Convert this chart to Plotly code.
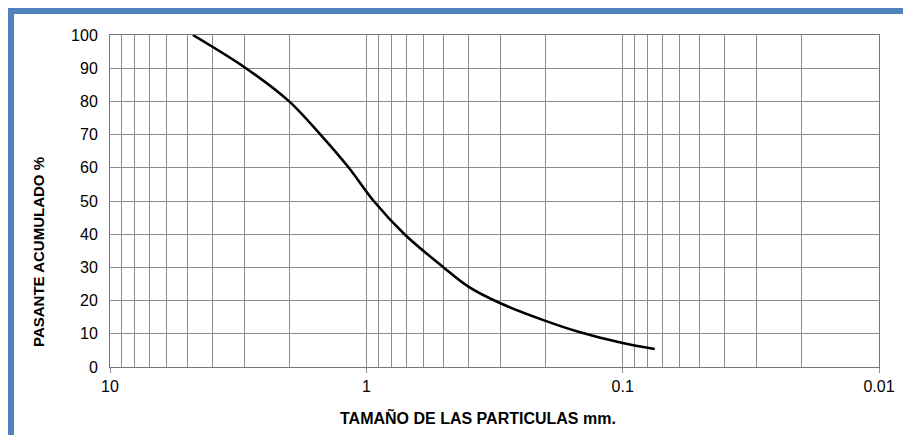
import plotly.graph_objects as go

# Data (particle size in mm, cumulative passing %)
size_mm = [4.75, 2.95, 2.0, 1.51, 1.17, 0.936, 0.71, 0.5, 0.4, 0.3, 0.2, 0.15, 0.1, 0.075]
passing = [100, 90, 80, 70, 60, 50, 40, 30, 24.2, 19.2, 13.9, 10.7, 7.2, 5.4]

major_ticks = [10, 1, 0.1, 0.01]
major_labels = ["10", "1", "0.1", "0.01"]
minor_ticks = [m * d for d in (1, 0.1, 0.01) for m in range(2, 10)]
y_ticks = list(range(0, 101, 10))

# page has an 8px body margin, so the figure origin sits at page (8, 8)
OFF = 8
W, H = 911 - OFF, 435 - OFF
L, R, T, B = 110 - OFF, 911 - 879, 35 - OFF, 435 - 367
pw, ph = W - L - R, H - T - B


def px(x):  # page x -> paper x
    return (x - OFF - L) / pw


def py(y):  # page y -> paper y
    return (H - B - (y - OFF)) / ph


fig = go.Figure()
fig.add_trace(go.Scatter(
    x=size_mm, y=passing, mode="lines",
    line=dict(color="black", width=2.6, shape="spline", smoothing=0.9),
    showlegend=False, hoverinfo="x+y",
))

grid = "#8c8c8c"
fig.update_layout(
    width=W, height=H,
    margin=dict(l=L, r=R, t=T, b=B),
    paper_bgcolor="white", plot_bgcolor="white",
    font=dict(family="Liberation Sans, Arial, sans-serif", color="black", size=16),
    xaxis=dict(
        type="log", range=[1, -2],
        tickmode="array", tickvals=major_ticks, ticktext=major_labels,
        ticks="outside", ticklen=5, tickcolor=grid,
        showgrid=True, gridcolor=grid, gridwidth=1,
        minor=dict(tickmode="array", tickvals=minor_ticks, showgrid=True,
                   gridcolor=grid, gridwidth=1, ticks=""),
        showline=True, linecolor="#777777", linewidth=1, mirror=True,
        zeroline=False, tickfont=dict(size=16),
    ),
    yaxis=dict(
        range=[0, 100], tickmode="array", tickvals=y_ticks,
        showgrid=True, gridcolor=grid, gridwidth=1,
        ticks="", ticklabelstandoff=8,
        showline=True, linecolor="#777777", linewidth=1, mirror=True,
        zeroline=False, tickfont=dict(size=16),
    ),
    shapes=[
        dict(type="rect", xref="paper", yref="paper",
             x0=px(8), x1=px(930), y0=py(14), y1=py(8),
             fillcolor="#4F81BD", line=dict(width=0), layer="above"),
        dict(type="rect", xref="paper", yref="paper",
             x0=px(8), x1=px(14), y0=py(460), y1=py(8),
             fillcolor="#4F81BD", line=dict(width=0), layer="above"),
    ],
    annotations=[
        dict(text="<b>TAMAÑO DE LAS PARTICULAS mm.</b>", xref="paper", yref="paper",
             x=px(478), y=py(417), xanchor="center", yanchor="middle",
             showarrow=False, font=dict(size=16)),
        dict(text="<b>PASANTE ACUMULADO %</b>", xref="paper", yref="paper",
             x=px(38), y=py(252), xanchor="center", yanchor="middle",
             textangle=-90, showarrow=False, font=dict(size=15)),
    ],
)

fig.write_html("out.html")
